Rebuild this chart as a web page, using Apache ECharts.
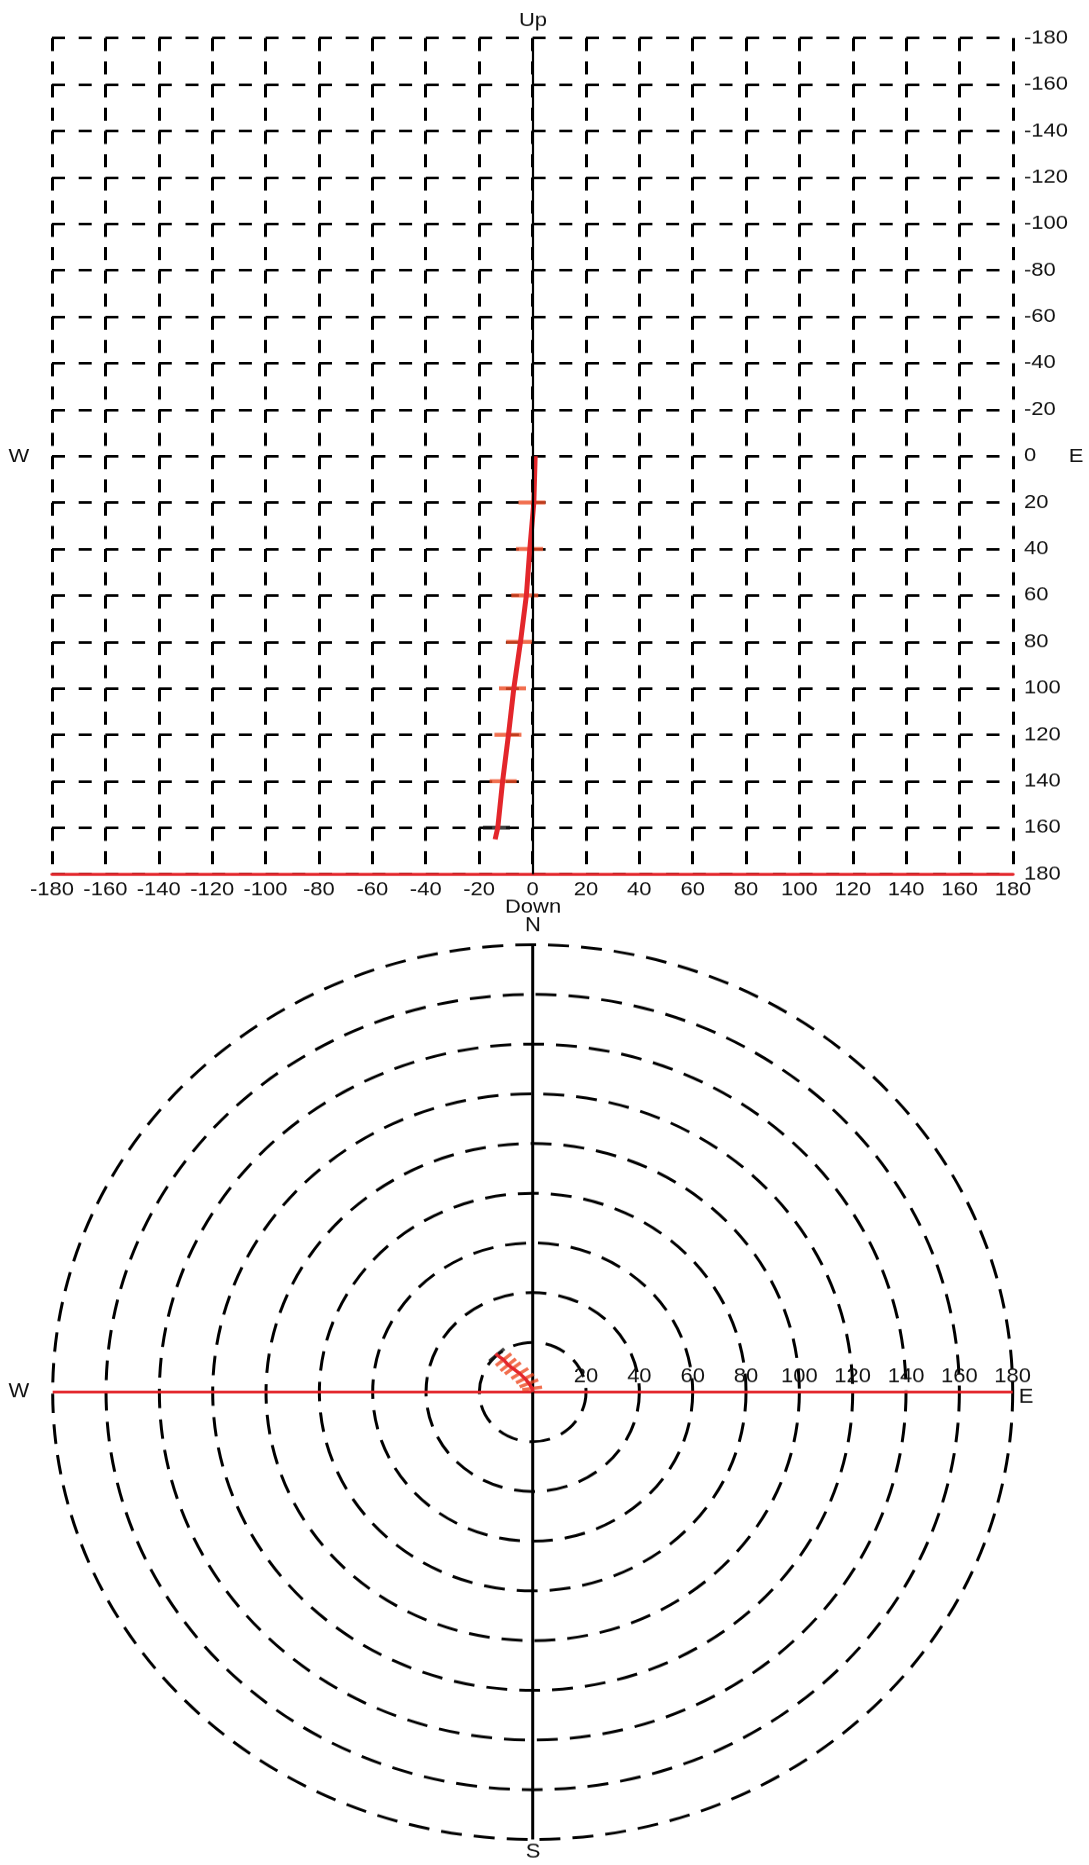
<!DOCTYPE html>
<html>
<head>
<meta charset="utf-8">
<script src="https://cdn.jsdelivr.net/npm/echarts@6/dist/echarts.min.js"></script>
<style>
html,body{margin:0;padding:0;background:#fff;width:1089px;height:1865px;overflow:hidden;}
#top{position:absolute;left:0;top:0;width:1089px;height:1060px;transform:scaleY(0.87);transform-origin:0 0;}
#bot{position:absolute;left:0;top:906px;width:1089px;height:1032px;transform:scaleY(0.932);transform-origin:0 0;}
</style>
</head>
<body>
<div id="top"></div>
<div id="bot"></div>
<script>
// ---- data ----
const eastTicks = [-180,-160,-140,-120,-100,-80,-60,-40,-20,0,20,40,60,80,100,120,140,160,180];
const depthTicks = [-180,-160,-140,-120,-100,-80,-60,-40,-20,0,20,40,60,80,100,120,140,160,180];
const ringTicks = [0,20,40,60,80,100,120,140,160,180];

// vertical section: east offset vs depth
const sectionEast  = [1, 0.5, -1, -2.3, -4.5, -7, -9, -11.2, -13, -14];
const sectionDepth = [0, 20, 40, 60, 80, 100, 120, 140, 160, 165];
// station markers in the section
const stationDepth = [20, 40, 60, 80, 100, 120, 140, 160];
const stationEast  = [-0.2, -1.1, -2.9, -4.8, -7.5, -9.2, -11, -13.5];
// plan view (radius, azimuth in degrees counter-clockwise from east)
const planRadius  = [0, 1.5, 3.8, 6.2, 8.9, 12.1, 14.3, 17.0, 20.1, 20.8];
const planAzimuth = [0, 98, 112, 118, 123, 128, 130, 130, 132, 132];
const stationRadius  = [1.5, 3.8, 6.2, 8.9, 12.1, 14.3, 17.0, 20.1];
const stationAzimuth = [98, 112, 118, 123, 128, 130, 130, 132];

const FONT = 'Liberation Sans, Arial, sans-serif';
const FS = 22;
const RED = '#e3262b';
const ORANGE = '#ee4a22';

function label(text, x, y) {
  return { type: 'text', x: x, y: y, z: 10,
    style: { text: text, fontSize: FS, fontFamily: FONT, fill: '#111', align: 'center', verticalAlign: 'middle' } };
}

// ---- top chart (drawn in an unsquashed frame, then scaled vertically by CSS) ----
const topChart = echarts.init(document.getElementById('top'));
const secData = sectionEast.map((e, i) => [e, sectionDepth[i]]);
const stData = stationEast.map((e, i) => ({
  value: [e, stationDepth[i]],
  itemStyle: { color: i === stationEast.length - 1 ? '#111' : ORANGE }
}));
topChart.setOption({
  backgroundColor: 'transparent',
  animation: false,
  grid: { left: 52, top: 43.7, width: 961, height: 961 },
  xAxis: {
    type: 'value', min: eastTicks[0], max: eastTicks[eastTicks.length - 1],
    interval: eastTicks[1] - eastTicks[0], position: 'bottom',
    axisLine: { show: true, onZero: false, lineStyle: { color: RED, width: 3.5 } },
    axisTick: { show: false },
    axisLabel: { color: '#111', fontSize: FS, fontFamily: FONT, margin: 7 },
    splitLine: { show: true, lineStyle: { color: '#000', width: 3, type: [15, 11.7] } }
  },
  yAxis: {
    type: 'value', inverse: true, min: depthTicks[0], max: depthTicks[depthTicks.length - 1],
    interval: depthTicks[1] - depthTicks[0], position: 'right',
    axisLine: { show: false }, axisTick: { show: false },
    axisLabel: { color: '#111', fontSize: FS, fontFamily: FONT, margin: 11 },
    splitLine: { show: true, lineStyle: { color: '#000', width: 3.2, type: [13, 13.7] } }
  },
  graphic: [
    label('Up', 533, 24),
    label('Down', 533, 1043),
    label('W', 19, 525),
    label('E', 1076, 525)
  ],
  series: [
    {
      type: 'line', data: secData, symbol: 'none', z: 4,
      lineStyle: { color: RED, width: 5 },
      markLine: {
        silent: true, symbol: ['none', 'none'], label: { show: false },
        lineStyle: { color: '#000', type: 'solid', width: 2.2 },
        data: [{ xAxis: 0 }]
      }
    },
    {
      type: 'scatter', data: stData, symbol: 'rect', symbolSize: [27, 4.5], z: 3
    }
  ]
});

// ---- bottom chart (plan view) ----
const botChart = echarts.init(document.getElementById('bot'));
const planData = planRadius.map((r, i) => [r, planAzimuth[i]]);
const planSt = stationRadius.map((r, i) => ({
  value: [r, stationAzimuth[i]],
  symbolRotate: stationAzimuth[i] - 90,
  itemStyle: { color: i === stationRadius.length - 1 ? '#111' : ORANGE }
}));
botChart.setOption({
  backgroundColor: 'transparent',
  animation: false,
  polar: { center: [532.7, 521.5], radius: 480 },
  angleAxis: {
    type: 'value', min: 0, max: 360, interval: 90, startAngle: 0, clockwise: false,
    axisLine: { show: false },
    axisTick: { show: false }, axisLabel: { show: false },
    splitLine: { show: true, lineStyle: { color: [RED, '#000', RED, '#000'], width: 3 } }
  },
  radiusAxis: {
    type: 'value', min: ringTicks[0], max: ringTicks[ringTicks.length - 1],
    interval: ringTicks[1] - ringTicks[0],
    axisLine: { show: false }, axisTick: { show: false },
    axisLabel: { color: '#111', fontSize: FS, fontFamily: FONT, margin: 6,
      formatter: v => (v === 0 ? '' : String(v)) },
    splitLine: { show: true, lineStyle: { color: '#000', width: 3, type: [21, 12] } }
  },
  graphic: [
    label('N', 533, 21),
    label('S', 533, 1015),
    label('W', 19, 521),
    label('E', 1026, 527)
  ],
  series: [
    { type: 'line', coordinateSystem: 'polar', data: planData, symbol: 'none', z: 4,
      lineStyle: { color: RED, width: 3.5 } },
    { type: 'scatter', coordinateSystem: 'polar', data: planSt, symbol: 'rect', symbolSize: [20, 3.5], z: 3 }
  ]
});
</script>
</body>
</html>
